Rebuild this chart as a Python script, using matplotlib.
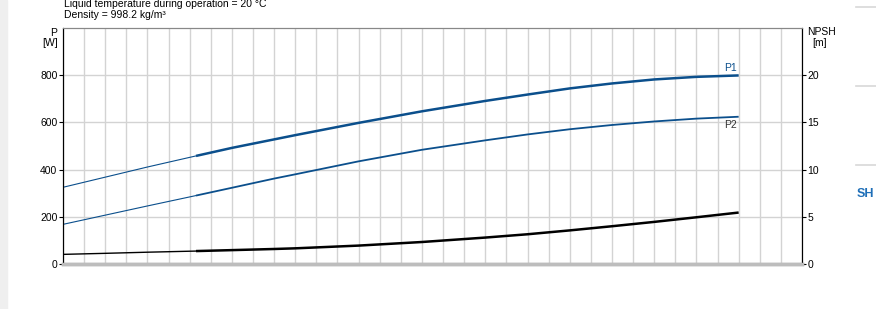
import matplotlib
matplotlib.use("Agg")
import matplotlib.pyplot as plt
import numpy as np

plt.rcParams['font.family'] = ['Liberation Sans', 'DejaVu Sans']

# flow axis positions (grid units, x axis has no labels)
q = [0, 2, 4, 6.3, 8, 10, 11, 14, 17, 20, 22, 24, 26, 28, 30, 32]
p1 = [325, 368, 411, 458, 492, 528, 546, 598, 647, 691, 718, 744, 765, 782, 793, 799]
p2 = [168, 207, 246, 290, 323, 362, 380, 435, 484, 524, 549, 571, 589, 604, 616, 624]
npsh = [1.02, 1.13, 1.25, 1.37, 1.47, 1.59, 1.66, 1.95, 2.33, 2.80, 3.15, 3.56, 4.0, 4.46, 4.95, 5.45]
p_ticks = [0, 200, 400, 600, 800]
npsh_ticks = [0, 5, 10, 15, 20]
split = 3  # index where the curves switch from thin to thick

blue = '#0b4f8c'
grid_c = '#d3d3d3'

fig = plt.figure(figsize=(8.76, 3.09), dpi=100)
ax = fig.add_axes([63 / 876, 1 - 264 / 309, 739 / 876, 236 / 309])
ax2 = ax.twinx()

ax.set_xlim(0, 35)
ax.set_ylim(0, 1000)
ax2.set_ylim(0, 25)

ax.set_xticks(np.arange(0, 36, 1))
ax.set_yticks(p_ticks)
ax.grid(True, color=grid_c, lw=1)
ax.tick_params(axis='x', length=0, labelbottom=False)
ax.tick_params(axis='y', length=3, width=0.8, labelsize=7.5, pad=1)
ax2.set_yticks(npsh_ticks)
ax2.tick_params(axis='y', length=3, width=0.8, labelsize=7.5, pad=1)

for a in (ax, ax2):
    a.spines['top'].set_color('#888888')
    a.spines['bottom'].set_color('#bdbdbd')
    a.spines['bottom'].set_linewidth(2.5)
    a.spines['left'].set_color('black')
    a.spines['right'].set_color('black')

qa = np.array(q)
ax.plot(qa[:split + 1], p1[:split + 1], color=blue, lw=0.8)
ax.plot(qa[split:], p1[split:], color=blue, lw=1.8, solid_capstyle='butt')
ax.plot(qa[:split + 1], p2[:split + 1], color=blue, lw=0.8)
ax.plot(qa[split:], p2[split:], color=blue, lw=1.3, solid_capstyle='butt')
ax2.plot(qa[:split + 1], npsh[:split + 1], color='black', lw=1.0)
ax2.plot(qa[split:], npsh[split:], color='black', lw=1.8, solid_capstyle='butt')

ax.text(q[-1] - 0.1, p1[-1] + 12, 'P1', color=blue, fontsize=7.5, ha='right', va='bottom')
ax.text(q[-1] - 0.1, p2[-1] - 12, 'P2', color='#333333', fontsize=7.5, ha='right', va='top')

fig.text(57 / 876, 1 - 33 / 309, 'P', fontsize=7.5, ha='right', va='center')
fig.text(58 / 876, 1 - 43 / 309, '[W]', fontsize=7.5, ha='right', va='center')
fig.text(807 / 876, 1 - 32 / 309, 'NPSH', fontsize=7.5, ha='left', va='center')
fig.text(812 / 876, 1 - 43 / 309, '[m]', fontsize=7.5, ha='left', va='center')

fig.text(64 / 876, 1 - 4 / 309, 'Liquid temperature during operation = 20 °C', fontsize=7.5, va='center')
fig.text(64 / 876, 1 - 15 / 309, 'Density = 998.2 kg/m³', fontsize=7.5, va='center')

# page decoration around the chart
fig.patches.append(plt.Rectangle((0, 0), 7 / 876, 1, transform=fig.transFigure,
                                 color='#efefef', zorder=0))
for yy in (6.5, 86, 165):
    fig.add_artist(plt.Line2D([856 / 876, 1], [1 - yy / 309] * 2, color='#d8d8d8', lw=1.2))
fig.text(857 / 876, 1 - 194 / 309, 'SH', fontsize=9, color='#1f6fb8', fontweight='bold',
         va='center')

fig.savefig('out.png', dpi=100)
